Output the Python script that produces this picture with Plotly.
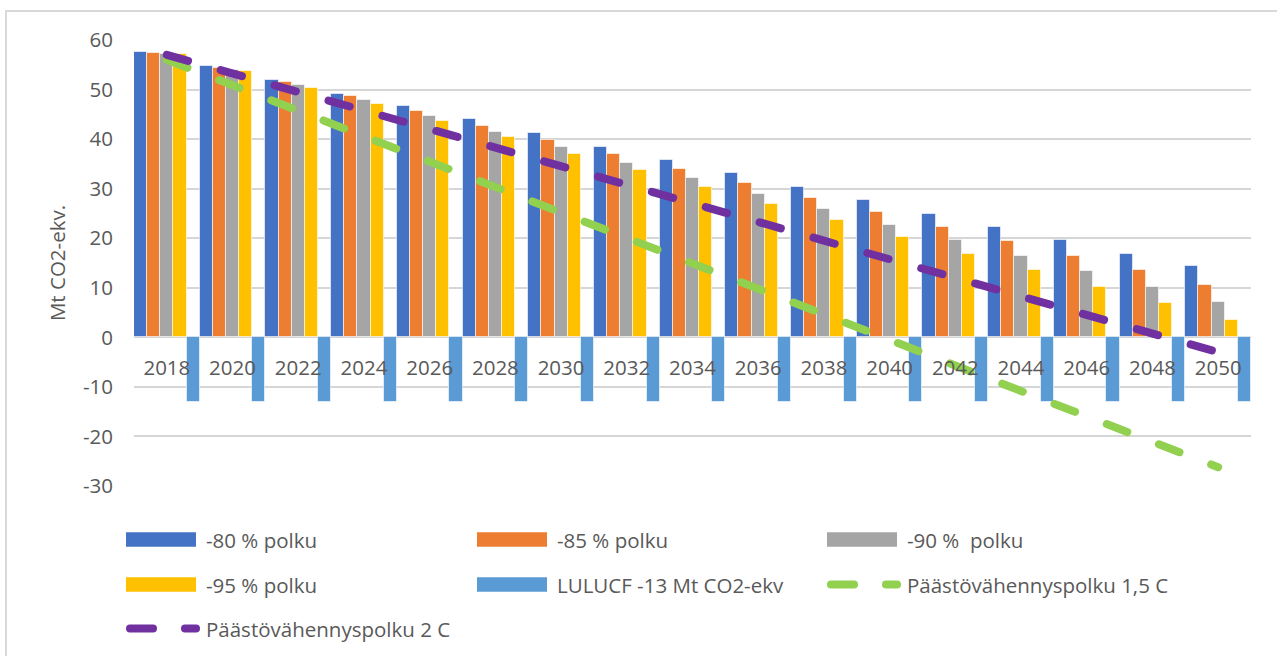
import plotly.graph_objects as go

# ---------------- data ----------------
years = ["2018", "2020", "2022", "2024", "2026", "2028", "2030", "2032", "2034",
         "2036", "2038", "2040", "2042", "2044", "2046", "2048", "2050"]

p80 = [57.5, 54.8, 51.9, 49.2, 46.6, 44.0, 41.2, 38.5, 35.8, 33.1, 30.3, 27.7, 24.9, 22.2, 19.6, 16.8, 14.3]
p85 = [57.3, 54.4, 51.5, 48.6, 45.7, 42.6, 39.8, 36.9, 34.0, 31.1, 28.1, 25.2, 22.2, 19.4, 16.4, 13.6, 10.6]
p90 = [57.2, 54.0, 50.9, 47.9, 44.7, 41.5, 38.4, 35.2, 32.1, 28.9, 25.8, 22.7, 19.6, 16.4, 13.3, 10.2, 7.1]
p95 = [57.1, 53.7, 50.4, 47.0, 43.7, 40.4, 37.0, 33.8, 30.3, 26.9, 23.7, 20.2, 16.8, 13.6, 10.1, 6.9, 3.5]
lulucf = [-13.0, -13.0, -13.0, -13.0, -13.0, -13.0, -13.0, -13.0, -13.0,
          -13.0, -13.0, -13.0, -13.0, -13.0, -13.0, -13.0, -13.0]
path15 = [56.0, 50.9, 45.7, 40.6, 35.4, 30.3, 25.2, 20.0, 14.9, 9.7, 4.6, -0.5, -5.7, -10.8, -16.0, -21.1, -26.2]
path2 = [57.0, 53.3, 49.5, 45.8, 42.0, 38.3, 34.5, 30.8, 27.0, 23.3, 19.5, 15.8, 12.0, 8.3, 4.5, 0.8, -3.0]

bar_series = [p80, p85, p90, p95, lulucf]
bar_names = ["-80 % polku", "-85 % polku", "-90 %\u00a0 polku", "-95 % polku", "LULUCF -13 Mt CO2-ekv"]
bar_colors = ["#4472C4", "#ED7D31", "#A5A5A5", "#FFC000", "#5B9BD5"]

line_series = [path15, path2]
line_names = ["Päästövähennyspolku 1,5 C", "Päästövähennyspolku 2 C"]
line_colors = ["#92D050", "#7030A0"]

y_range = [-30, 60]
y_tickvals = [-30, -20, -10, 0, 10, 20, 30, 40, 50, 60]
y_ticktext = ["-30", "-20", "-10", "0", "10", "20", "30", "40", "50", "60"]
y_title = "Mt CO2-ekv."

# ---------------- layout geometry ----------------
W, H = 1277, 656
ML, MR, MT, MB = 134, 26, 40, 170
PW = W - ML - MR
PH = H - MT - MB


def px(x):
    return (x - ML) / PW


def py(y):
    return (H - MB - y) / PH


FONT = "Open Sans"
TXT = "#595959"
FS = 20.5
GRID = "#d6d6d6"

fig = go.Figure()

for vals, name, col in zip(bar_series, bar_names, bar_colors):
    fig.add_trace(go.Bar(
        x=years, y=vals, name=name, showlegend=False,
        marker=dict(color=col, line=dict(color="rgba(255,255,255,0.6)", width=1)),
    ))

for vals, name, col in zip(line_series, line_names, line_colors):
    fig.add_trace(go.Scatter(
        x=years, y=vals, name=name, mode="lines", showlegend=False,
        line=dict(color=col, width=8, dash="22px,34px"),
    ))

zero_pos = (0 - y_range[0]) / (y_range[1] - y_range[0])

# ---------------- custom legend (Excel style) ----------------
col_x = [126, 477, 827]
row_y = [539.5, 584.5, 628.5]
legend_items = [
    ("bar", 0, 0, 0), ("bar", 1, 1, 0), ("bar", 2, 2, 0),
    ("bar", 3, 0, 1), ("bar", 4, 1, 1), ("line", 0, 2, 1),
    ("line", 1, 0, 2),
]
shapes = []
annotations = []
for kind, idx, c, r in legend_items:
    x0 = col_x[c]
    yc = row_y[r]
    if kind == "bar":
        shapes.append(dict(type="rect", xref="paper", yref="paper",
                           x0=px(x0), x1=px(x0 + 70), y0=py(yc - 7.2), y1=py(yc + 7.2),
                           fillcolor=bar_colors[idx], line=dict(width=0)))
        label = bar_names[idx]
    else:
        for a, b in [(4, 27), (59, 70)]:
            shapes.append(dict(type="line", xref="paper", yref="paper",
                               x0=px(x0 + a), x1=px(x0 + b), y0=py(yc), y1=py(yc),
                               line=dict(color=line_colors[idx], width=8)))
        label = line_names[idx]
    annotations.append(dict(xref="paper", yref="paper", x=px(x0 + 78), y=py(yc),
                            xanchor="left", yanchor="middle", showarrow=False,
                            text=label, font=dict(family=FONT, size=FS, color=TXT)))

# outer chart frame
shapes.append(dict(type="rect", xref="paper", yref="paper", layer="below",
                   x0=px(6), x1=px(W + 10), y0=py(11), y1=py(H + 10),
                   line=dict(color="#d9d9d9", width=2), fillcolor="rgba(0,0,0,0)"))

fig.update_layout(
    width=W, height=H, autosize=False,
    margin=dict(l=ML, r=MR, t=MT, b=MB, pad=0),
    paper_bgcolor="white", plot_bgcolor="white",
    barmode="group", bargap=0, bargroupgap=0,
    font=dict(family=FONT, size=FS, color=TXT),
    shapes=shapes, annotations=annotations,
    showlegend=False,
    xaxis=dict(type="category", showgrid=False, showline=False, zeroline=False,
               anchor="free", position=zero_pos, ticks="", ticklabelstandoff=16,
               tickfont=dict(family=FONT, size=FS, color=TXT)),
    yaxis=dict(range=y_range, tickvals=y_tickvals, ticktext=y_ticktext,
               showgrid=True, gridcolor=GRID, gridwidth=1.6,
               zeroline=True, zerolinecolor=GRID, zerolinewidth=1.8,
               showline=False, ticks="", ticklabelstandoff=20,
               tickfont=dict(family=FONT, size=FS, color=TXT),
               title=dict(text=y_title, standoff=11,
                          font=dict(family=FONT, size=FS, color=TXT))),
)

post = """
document.body.style.margin = '0';
document.body.style.padding = '0';
var gd = document.getElementById('{plot_id}');
function caps(){
  gd.querySelectorAll('.scatterlayer .js-line, .shapelayer path').forEach(function(p){
    p.style.strokeLinecap = 'round';
  });
}
caps();
gd.on('plotly_afterplot', caps);
"""

fig.write_html("out.html", post_script=post, config={"displayModeBar": False})
